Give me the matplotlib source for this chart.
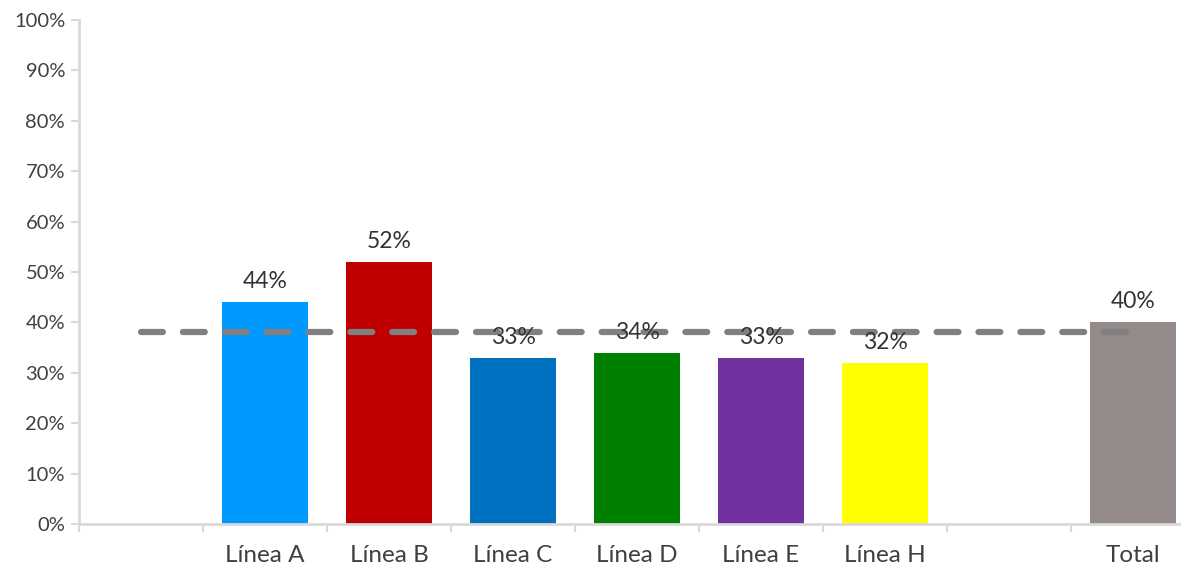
import matplotlib.pyplot as plt
import numpy as np

categories = ["", "Línea A", "Línea B", "Línea C", "Línea D", "Línea E", "Línea H", "", "Total"]
values = [None, 44, 52, 33, 34, 33, 32, None, 40]
bar_colors = ["none", "#0099FF", "#C00000", "#0070C0", "#008000", "#7030A0", "#FFFF00", "none", "#948A8A"]
target = 38

plt.rcParams['font.family'] = ['Lato', 'DejaVu Sans']
text_color = "#404040"
grid_color = "#D9D9D9"

fig = plt.figure(figsize=(11.81, 5.65), dpi=100)
ax = fig.add_axes([79 / 1181, 41 / 565, 1116 / 1181, 504 / 565])

x = np.arange(len(categories))
for xi, v, c in zip(x, values, bar_colors):
    if v is None:
        continue
    ax.bar(xi, v, width=0.69, color=c, zorder=2)
    ax.text(xi, v + 2.0, f"{v}%", ha="center", va="bottom", fontsize=16.5,
            color="#333333", zorder=4)

# target line across all categories
ax.plot([0, 8], [target, target], color="#808080", lw=4.5, ls=(0, (3.5, 3.2)),
        solid_capstyle="round", dash_capstyle="round", zorder=3)

ax.set_xlim(-0.5, 8.5)
ax.set_ylim(0, 100)
ax.set_yticks(np.arange(0, 101, 10))
ax.set_yticklabels([f"{t}%" for t in range(0, 101, 10)])
ax.set_xticks(np.arange(-0.5, 9, 1), minor=False)
ax.set_xticklabels([])
ax.set_xticks(x, minor=True)
ax.set_xticklabels(categories, minor=True)
ax.tick_params(axis="x", which="minor", length=0, pad=15, labelsize=17.5, labelcolor=text_color)
ax.tick_params(axis="x", which="major", length=6, width=1.5, color=grid_color)
ax.tick_params(axis="y", length=6, width=1.5, color=grid_color, labelsize=14.5,
               labelcolor=text_color, pad=4)

for s in ["top", "right"]:
    ax.spines[s].set_visible(False)
for s in ["left", "bottom"]:
    ax.spines[s].set_color(grid_color)
    ax.spines[s].set_linewidth(2)

fig.savefig("out.png", dpi=100)
